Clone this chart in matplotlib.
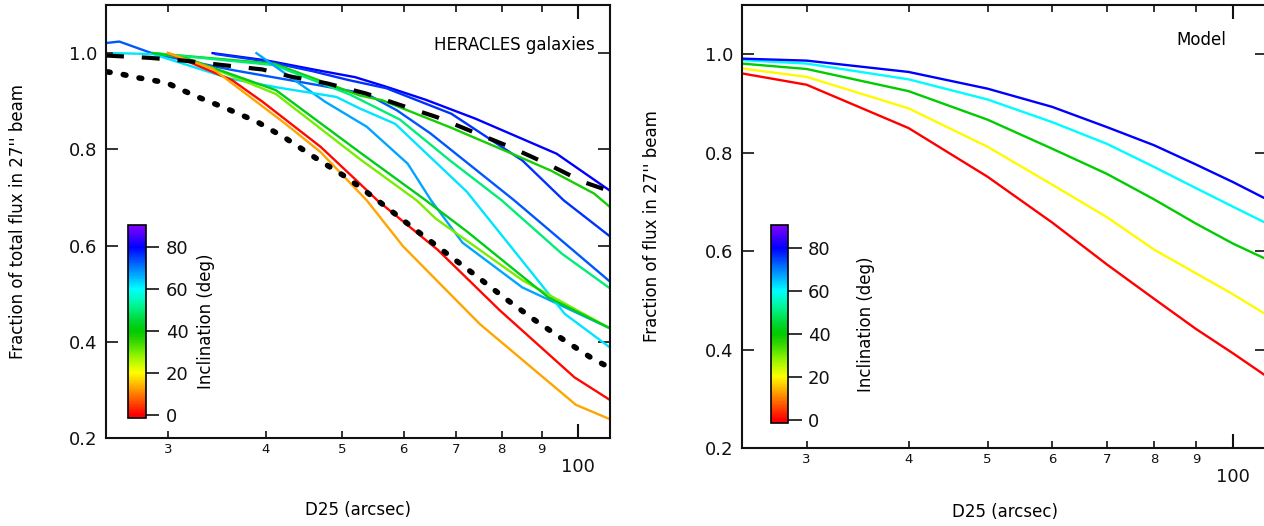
import numpy as np
import matplotlib
matplotlib.use("Agg")
import matplotlib.pyplot as plt
from matplotlib.cm import ScalarMappable
from matplotlib.colors import ListedColormap, Normalize, hsv_to_rgb
from matplotlib.ticker import FixedFormatter, FixedLocator

# --- HERACLES galaxies: D25 (arcsec) vs fraction of total flux in the 27" beam
gal01_d = [34.2, 40, 46, 52, 57, 64, 74, 94, 110]
gal01_f = [1.0, 0.985, 0.966, 0.950, 0.930, 0.903, 0.864, 0.791, 0.714]
gal02_d = [34.5, 40, 46, 51, 57, 69, 85, 96, 110]
gal02_f = [0.998, 0.983, 0.962, 0.944, 0.927, 0.874, 0.777, 0.694, 0.619]
gal03_d = [25, 26, 28.7, 36.2, 46.8, 53.8, 58.8, 64.9, 83, 110]
gal03_f = [1.021, 1.024, 0.999, 0.965, 0.933, 0.915, 0.881, 0.833, 0.694, 0.525]
gal04_d = [28.7, 41, 52.7, 56.3, 68.7, 83, 92.4, 105, 110]
gal04_f = [1.0, 0.978, 0.912, 0.902, 0.846, 0.789, 0.756, 0.708, 0.680]
gal05_d = [28.7, 41, 51.2, 59.3, 68.7, 80, 95.5, 110]
gal05_f = [1.0, 0.975, 0.914, 0.862, 0.777, 0.694, 0.583, 0.511]
gal06_d = [38.9, 47.6, 53.8, 60.7, 65, 71.3, 85, 110]
gal06_f = [1.0, 0.899, 0.847, 0.770, 0.694, 0.606, 0.513, 0.428]
gal07_d = [25.6, 28.7, 36, 41.6, 49.2, 52.7, 58.5, 72.2, 96.3, 110]
gal07_f = [1.0, 0.998, 0.947, 0.928, 0.909, 0.885, 0.853, 0.712, 0.458, 0.388]
gal08_d = [30, 35, 41.2, 52.7, 62.3, 65.9, 85.2, 110]
gal08_f = [1.0, 0.962, 0.915, 0.780, 0.694, 0.656, 0.527, 0.428]
gal09_d = [28.7, 31.7, 41.2, 52.7, 64, 72.4, 91.8, 110]
gal09_f = [1.0, 0.989, 0.923, 0.794, 0.694, 0.628, 0.492, 0.428]
gal10_d = [30, 36.2, 39.6, 47, 52.7, 55.5, 66.3, 79.6, 99.1, 110]
gal10_f = [1.0, 0.944, 0.899, 0.805, 0.729, 0.694, 0.591, 0.465, 0.326, 0.279]
gal11_d = [30, 34.2, 42.3, 47, 53.8, 59.9, 75, 99.5, 110]
gal11_f = [1.0, 0.968, 0.854, 0.794, 0.694, 0.598, 0.437, 0.269, 0.239]

gal_incl = [80, 76, 73, 38, 50, 67, 62, 30, 42, 1, 13]
gal_d = [gal01_d, gal02_d, gal03_d, gal04_d, gal05_d, gal06_d,
         gal07_d, gal08_d, gal09_d, gal10_d, gal11_d]
gal_f = [gal01_f, gal02_f, gal03_f, gal04_f, gal05_f, gal06_f,
         gal07_f, gal08_f, gal09_f, gal10_f, gal11_f]

# sample averages (dashed and dotted black curves)
dashed_d = [25, 28.5, 31.6, 35.3, 39.6, 43.1, 47.9, 53.7, 59.4, 66.1,
            73.6, 82, 91.4, 101.8, 110]
dashed_f = [0.995, 0.990, 0.984, 0.975, 0.966, 0.951, 0.937, 0.916, 0.892,
            0.867, 0.836, 0.805, 0.770, 0.732, 0.713]
dotted_d = [25.1, 26.2, 27.4, 28.6, 29.9, 31.2, 32.6, 35.6, 38.9, 42.3, 46.1,
            50.2, 52.4, 57.1, 62.3, 68, 74.1, 80.7, 88, 96, 104.7, 110]
dotted_f = [0.961, 0.956, 0.949, 0.944, 0.938, 0.924, 0.910, 0.885, 0.858,
            0.824, 0.784, 0.746, 0.725, 0.679, 0.631, 0.584, 0.538, 0.491,
            0.446, 0.404, 0.364, 0.346]

# --- Model disks, one curve per inclination
model_d = [25, 30, 40, 50, 60, 70, 80, 90, 100, 110]
model_incl = [0, 20, 40, 60, 80]
model_f00 = [0.961, 0.938, 0.850, 0.751, 0.658, 0.573, 0.503, 0.442, 0.392, 0.345]
model_f20 = [0.971, 0.954, 0.890, 0.812, 0.735, 0.669, 0.603, 0.555, 0.512, 0.470]
model_f40 = [0.981, 0.970, 0.925, 0.867, 0.808, 0.757, 0.705, 0.656, 0.615, 0.583]
model_f60 = [0.988, 0.981, 0.949, 0.908, 0.862, 0.818, 0.771, 0.728, 0.690, 0.656]
model_f80 = [0.991, 0.987, 0.964, 0.930, 0.893, 0.852, 0.815, 0.776, 0.740, 0.705]
model_f = [model_f00, model_f20, model_f40, model_f60, model_f80]

minor_ticks = [30, 40, 50, 60, 70, 80, 90]
minor_labels = ["3", "4", "5", "6", "7", "8", "9"]
y_ticks = [0.2, 0.4, 0.6, 0.8, 1.0]
y_labels = ["0.2", "0.4", "0.6", "0.8", "1.0"]
cbar_ticks = [0, 20, 40, 60, 80]

# rainbow: red at 0 deg through blue at 80 to violet at 90 (hue = 3 * incl)
norm = Normalize(-1.5, 90.5)
t = np.linspace(0, 1, 256)
hue = np.clip(3 * (norm.vmin + (norm.vmax - norm.vmin) * t), 0, 270)
val = 1 - 0.2 * np.exp(-((hue - 120) / 30) ** 2)
rainbow = ListedColormap(hsv_to_rgb(np.column_stack([hue / 360, np.ones_like(t), val])))

W, H = 1264, 526
fig = plt.figure(figsize=(W / 100, H / 100), dpi=100)


def px_axes(x0, y0, x1, y1):
    return fig.add_axes([x0 / W, 1 - y1 / H, (x1 - x0) / W, (y1 - y0) / H])


def style_axes(ax, xlab_y, ylab_x, ylabel):
    ax.set_xscale("log")
    ax.set_xlim(25, 110)
    ax.set_ylim(0.2, 1.1)
    ax.xaxis.set_major_locator(FixedLocator([100]))
    ax.xaxis.set_major_formatter(FixedFormatter(["100"]))
    ax.xaxis.set_minor_locator(FixedLocator(minor_ticks))
    ax.xaxis.set_minor_formatter(FixedFormatter(minor_labels))
    ax.set_yticks(y_ticks, y_labels)
    ax.tick_params(which="both", direction="in", top=True, right=True, colors="#111111")
    ax.tick_params(axis="x", which="major", length=10, width=1.5, labelsize=13, pad=14.5)
    ax.tick_params(axis="x", which="minor", length=5, width=1.2, labelsize=9.5, pad=3.5)
    ax.tick_params(axis="y", length=8.6, width=1.2, labelsize=13, pad=6)
    for s in ax.spines.values():
        s.set_linewidth(1.5)
        s.set_color("#111111")
    ax.set_xlabel("D25 (arcsec)", fontsize=12, va="center")
    ax.xaxis.set_label_coords(0.5, xlab_y)
    ax.set_ylabel(ylabel, fontsize=12, va="center")
    ax.yaxis.set_label_coords(ylab_x, 0.5)


def add_cbar(x0, y0, x1, y1, lab_x, tick_len, pad):
    cax = px_axes(x0, y0, x1, y1)
    cb = fig.colorbar(ScalarMappable(norm=norm, cmap=rainbow), cax=cax, ticks=cbar_ticks)
    cb.outline.set_linewidth(1.2)
    cb.ax.tick_params(length=tick_len, width=1.2, labelsize=13, pad=pad, colors="#111111")
    cb.set_label("Inclination (deg)", fontsize=12, va="center")
    cb.ax.yaxis.set_label_coords(lab_x, 0.5)
    return cb


# left panel: observed galaxies
ax1 = px_axes(106, 5, 610, 438)
for d, f, inc in zip(gal_d, gal_f, gal_incl):
    ax1.plot(d, f, color=rainbow(norm(inc)), lw=1.7)
ax1.plot(dashed_d, dashed_f, color="black", lw=3, ls=(0, (4.3, 4.3)))
ax1.plot(dotted_d, dotted_f, color="black", lw=4, ls=(0, (0.5, 2.4)),
         dash_capstyle="round")
ax1.text(0.970, 0.908, "HERACLES galaxies", transform=ax1.transAxes,
         ha="right", va="center", fontsize=12)
style_axes(ax1, -0.166, -0.175, "Fraction of total flux in 27'' beam")
add_cbar(128, 225, 146, 418, 4.33, 9.4, 5)

# right panel: model
ax2 = px_axes(742, 5, 1267, 448)
for f, inc in zip(model_f, model_incl):
    ax2.plot(model_d, f, color=rainbow(norm(inc)), lw=1.7)
ax2.text(0.922, 0.921, "Model", transform=ax2.transAxes,
         ha="right", va="center", fontsize=12)
style_axes(ax2, -0.1445, -0.171, "Fraction of flux in 27'' beam")
add_cbar(771, 225, 788, 423, 5.6, 10, 4.3)

fig.savefig("out.png", dpi=100)
